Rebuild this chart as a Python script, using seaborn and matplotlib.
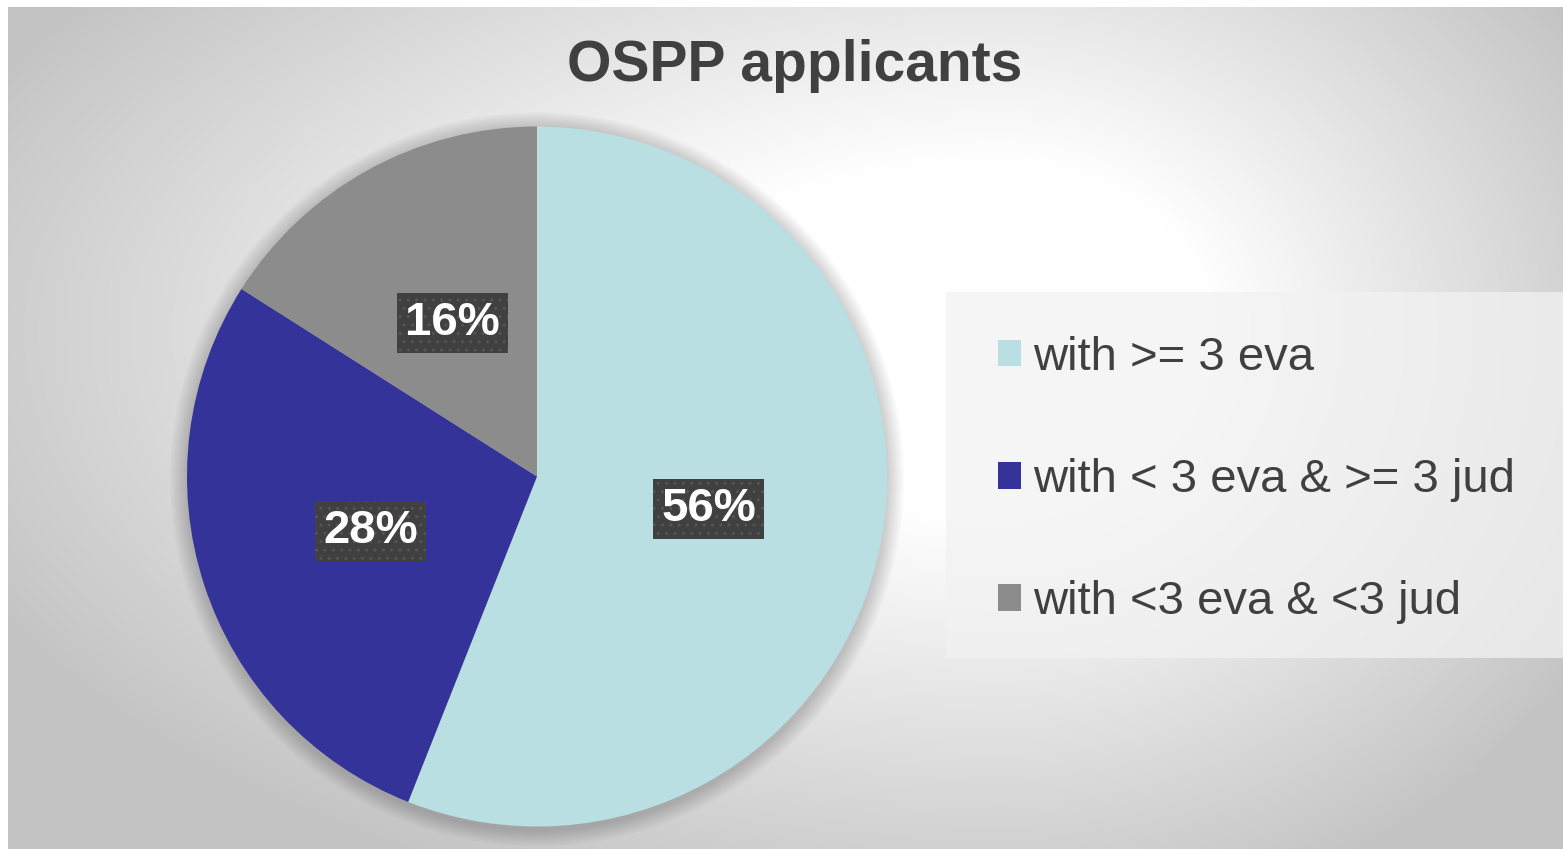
import numpy as np
import matplotlib
matplotlib.use("Agg")
import matplotlib.pyplot as plt
from matplotlib.patches import Rectangle, Patch, Circle
import seaborn as sns

# ---- data ----
categories = ["with >= 3 eva", "with < 3 eva & >= 3 jud", "with <3 eva & <3 jud"]
shares = [56, 28, 16]
title = "OSPP applicants"
slice_colors = ["#B9DFE2", "#333399", "#8C8C8C"]

sns.set_style("white")
plt.rcParams["font.family"] = ["Liberation Sans", "DejaVu Sans"]

W, H = 1563, 849
fig = plt.figure(figsize=(W / 100, H / 100), dpi=100)
fig.patch.set_facecolor("white")

# ---- background radial gradient ----
bg = fig.add_axes([8 / W, 0, 1 - 8 / W, (H - 7) / H], zorder=0)
xs = np.linspace(8, W, 600)
ys = np.linspace(7, H, 330)
X, Y = np.meshgrid(xs, ys)
gx, gy = 1000, 330
sx = np.where(X < gx, 1150, 700)
sy = np.where(Y < gy, 560, 620)
d = np.sqrt(((X - gx) / sx) ** 2 + ((Y - gy) / sy) ** 2)
t = np.clip((d - 0.3) / 0.7, 0, 1)
val = 1.0 - t * (1.0 - 0.765)
img = np.dstack([val, val, val])
bg.imshow(img, aspect="auto", extent=[0, 1, 0, 1], origin="upper", interpolation="bilinear")
bg.set_axis_off()

# ---- pie ----
cx, cy, r = 537, 476.5, 350
pad = 1.08
ax = fig.add_axes([(cx - r * pad) / W, (H - cy - r * pad) / H, 2 * r * pad / W, 2 * r * pad / H], zorder=2)
ax.set_facecolor("none")
# soft outer shadow behind the pie
for k in range(8):
    ax.add_patch(Circle((0, -0.008), 1.0 + 0.006 * (k + 1), fc="#000000", ec="none",
                        alpha=0.022, zorder=0))
wedges, texts, autotexts = ax.pie(
    shares, colors=slice_colors, startangle=90, counterclock=False,
    autopct="%1.0f%%", pctdistance=0.5,
    wedgeprops=dict(linewidth=0, zorder=1),
    textprops=dict(color="white", fontsize=34, fontweight="bold"),
)
for at in autotexts:
    at.set_zorder(3)
    at.set_bbox(dict(boxstyle="square,pad=0.17", fc="#404040", ec="#555555", lw=0, hatch=".."))
ax.set_xlim(-pad, pad)
ax.set_ylim(-pad, pad)
ax.set_aspect("equal")
ax.set_axis_off()

# ---- title ----
fig.text(795 / W, 1 - 66 / H, title, ha="center", va="center", fontsize=41,
         fontweight="bold", color="#404040", zorder=5)

# ---- legend ----
fig.patches.append(Rectangle((946 / W, 1 - 658 / H), (W - 946) / W, (658 - 292) / H,
                             transform=fig.transFigure, fc="#F2F2F2", ec="none", alpha=0.75, zorder=1))
handles = [Patch(facecolor=c, edgecolor="none") for c in slice_colors]
leg = fig.legend(handles, categories, loc="center left",
                 bbox_to_anchor=(998 / W, 1 - 480 / H), frameon=False,
                 fontsize=34, labelcolor="#404040", handlelength=0.49, handleheight=0.49,
                 handletextpad=0.25, labelspacing=1.66, borderpad=0, borderaxespad=0)
leg.set_zorder(6)

fig.savefig("out.png", dpi=100, facecolor="white")
